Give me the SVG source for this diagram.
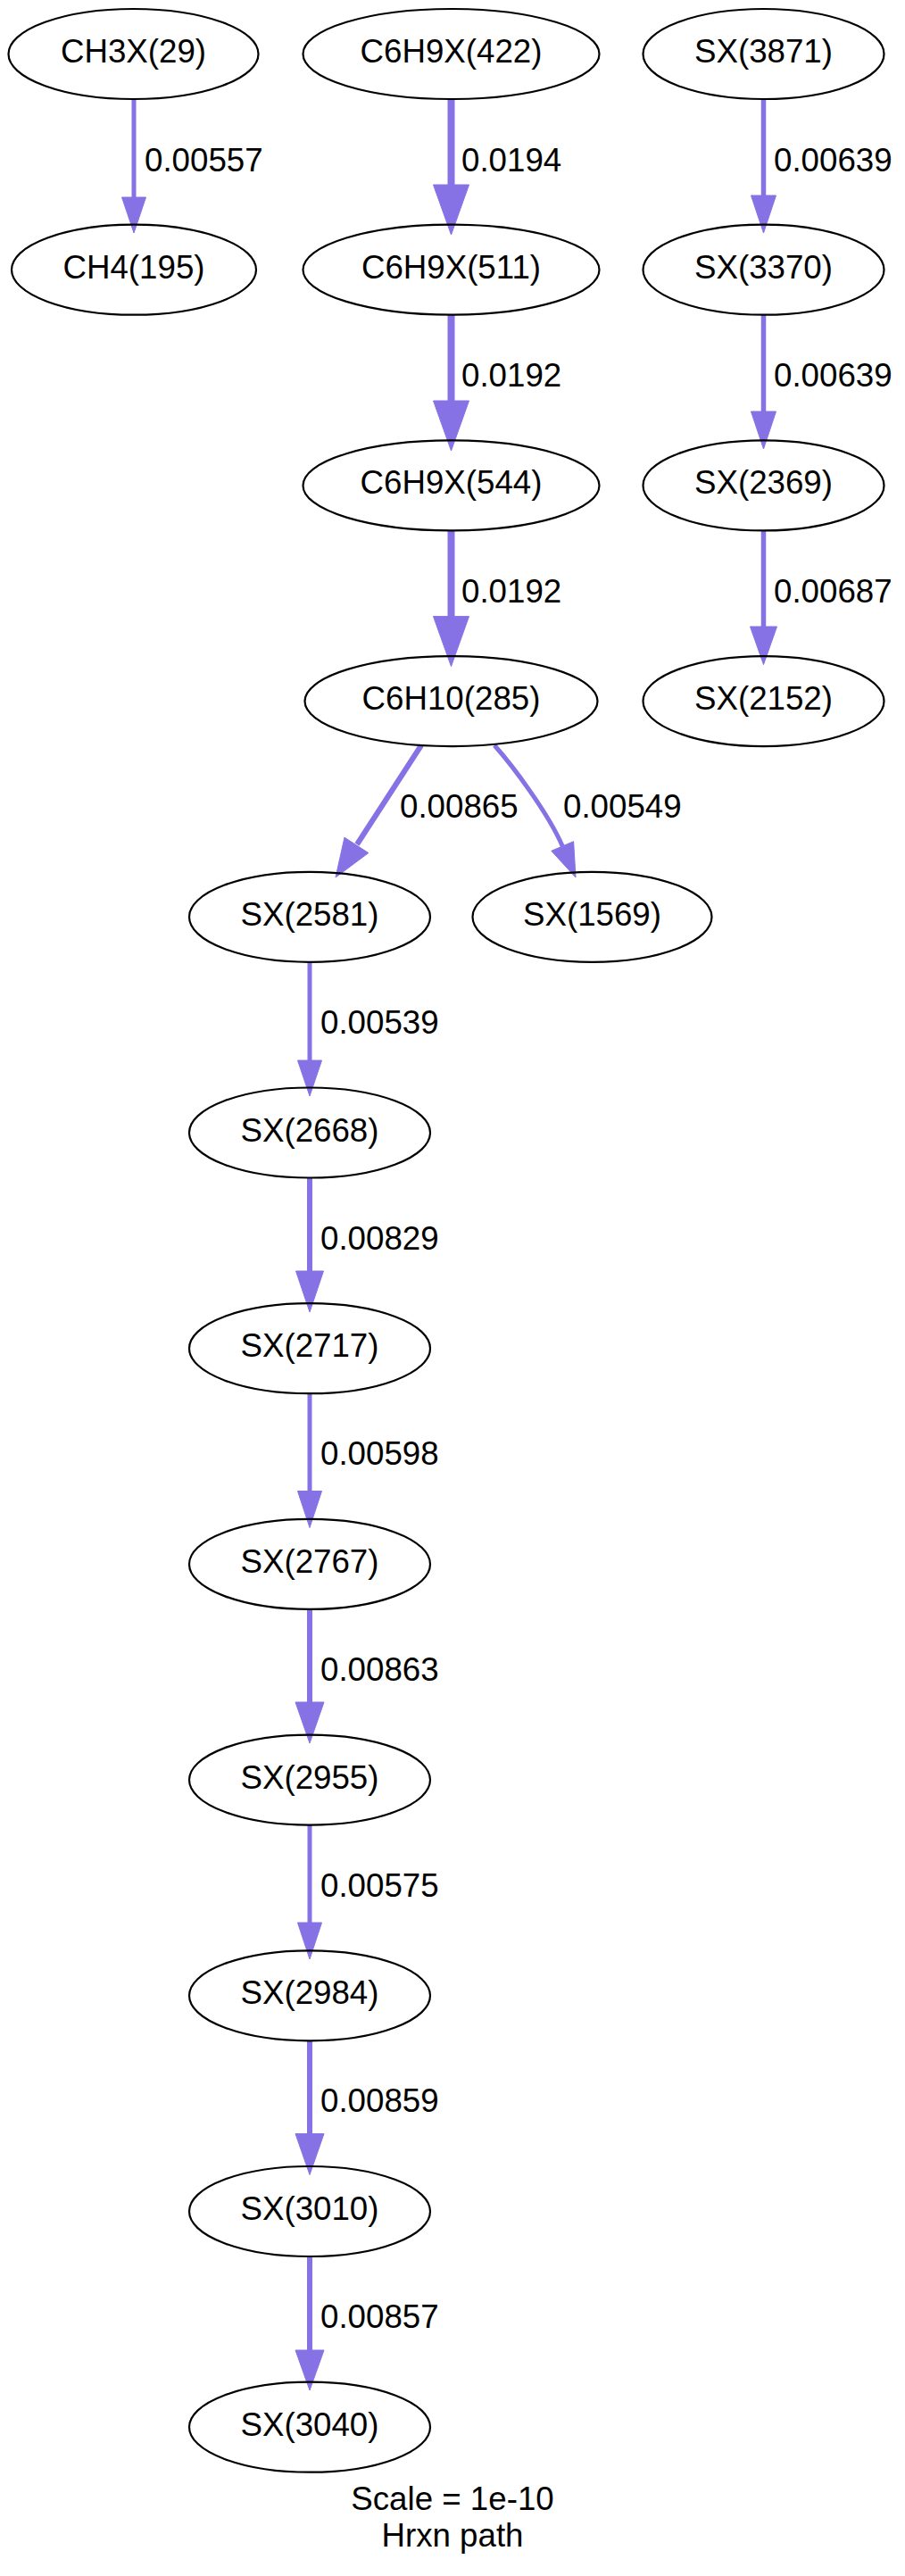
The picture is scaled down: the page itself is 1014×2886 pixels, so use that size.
<svg xmlns="http://www.w3.org/2000/svg" width="1014" height="2886" viewBox="0 0 1014 2886">
<style>
  .n ellipse { fill: none; stroke: #000; stroke-width: 2.2; }
  text { font-family: "Liberation Sans", Arial, Helvetica, sans-serif; font-size: 36.7px; fill: #000; }
  .n text { text-anchor: middle; }
  .e line, .e path { stroke: #8772e5; fill: none; }
  .e polygon { fill: #8772e5; stroke: #8772e5; stroke-width: 1; stroke-linejoin: miter; }
  .w8 { stroke-width: 8; }
  .w6 { stroke-width: 6; }
  .w55 { stroke-width: 5.5; }
  .w5 { stroke-width: 5; }
</style>
<rect x="0" y="0" width="1014" height="2886" fill="#fff"/>

<g id="connectors" class="e">
  <line class="w5" x1="150" y1="111" x2="150" y2="222"/>
  <polygon points="136.5,221 163.5,221 150,261"/>

  <line class="w8" x1="505.5" y1="111" x2="505.5" y2="208"/>
  <polygon points="485.5,207 525.5,207 505.5,263"/>

  <line class="w55" x1="855.5" y1="111" x2="855.5" y2="220"/>
  <polygon points="841.5,219 869.5,219 855.5,261"/>

  <line class="w8" x1="505.5" y1="352.7" x2="505.5" y2="450"/>
  <polygon points="485.5,449 525.5,449 505.5,505"/>

  <line class="w55" x1="855.5" y1="352.7" x2="855.5" y2="462"/>
  <polygon points="841.5,461 869.5,461 855.5,503"/>

  <line class="w8" x1="505.5" y1="594.4" x2="505.5" y2="691.6"/>
  <polygon points="485.5,690.6 525.5,690.6 505.5,746.6"/>

  <line class="w55" x1="855.5" y1="594.4" x2="855.5" y2="703"/>
  <polygon points="840.5,702 870.5,702 855.5,744.6"/>

  <line class="w6" x1="472" y1="835" x2="400" y2="946"/>
  <polygon points="386,938.2 412.8,955.6 376,983"/>

  <path class="w5" d="M554,835 C574,857.5 614.4,911 630.2,948"/>
  <polygon points="617.8,953.3 642.6,942.7 645,983"/>

  <line class="w5" x1="347" y1="1077.8" x2="347" y2="1189"/>
  <polygon points="333.5,1188 360.5,1188 347,1228"/>

  <line class="w6" x1="347" y1="1319.5" x2="347" y2="1425"/>
  <polygon points="331.5,1424 362.5,1424 347,1470"/>

  <line class="w5" x1="347" y1="1561.2" x2="347" y2="1671.5"/>
  <polygon points="333.5,1670.5 360.5,1670.5 347,1711.5"/>

  <line class="w6" x1="347" y1="1802.9" x2="347" y2="1908"/>
  <polygon points="331,1907 363,1907 347,1953"/>

  <line class="w5" x1="347" y1="2044.6" x2="347" y2="2155"/>
  <polygon points="333.5,2154 360.5,2154 347,2195"/>

  <line class="w6" x1="347" y1="2286.3" x2="347" y2="2391.5"/>
  <polygon points="331,2390.5 363,2390.5 347,2436.5"/>

  <line class="w6" x1="347" y1="2528" x2="347" y2="2634"/>
  <polygon points="331,2633 363,2633 347,2678"/>

  <text x="162" y="192">0.00557</text>
  <text x="517" y="192">0.0194</text>
  <text x="867" y="192">0.00639</text>
  <text x="517" y="433">0.0192</text>
  <text x="867" y="433">0.00639</text>
  <text x="517" y="675">0.0192</text>
  <text x="867" y="675">0.00687</text>
  <text x="448" y="916">0.00865</text>
  <text x="631" y="916">0.00549</text>
  <text x="359" y="1158">0.00539</text>
  <text x="359" y="1400">0.00829</text>
  <text x="359" y="1641">0.00598</text>
  <text x="359" y="1883">0.00863</text>
  <text x="359" y="2125">0.00575</text>
  <text x="359" y="2366">0.00859</text>
  <text x="359" y="2608">0.00857</text>
</g>

<g id="CH3X_29" class="n"><ellipse cx="149.5" cy="60.5" rx="140" ry="50.5"/><text x="149.5" y="70">CH3X(29)</text></g>
<g id="C6H9X_422" class="n"><ellipse cx="505.5" cy="60.5" rx="166" ry="50.5"/><text x="505.5" y="70">C6H9X(422)</text></g>
<g id="SX_3871" class="n"><ellipse cx="855.5" cy="60.5" rx="135" ry="50.5"/><text x="855.5" y="70">SX(3871)</text></g>

<g id="CH4_195" class="n"><ellipse cx="150" cy="302.2" rx="137" ry="50.5"/><text x="150" y="311.7">CH4(195)</text></g>
<g id="C6H9X_511" class="n"><ellipse cx="505.5" cy="302.2" rx="166" ry="50.5"/><text x="505.5" y="311.7">C6H9X(511)</text></g>
<g id="SX_3370" class="n"><ellipse cx="855.5" cy="302.2" rx="135" ry="50.5"/><text x="855.5" y="311.7">SX(3370)</text></g>

<g id="C6H9X_544" class="n"><ellipse cx="505.5" cy="543.9" rx="166" ry="50.5"/><text x="505.5" y="553.4">C6H9X(544)</text></g>
<g id="SX_2369" class="n"><ellipse cx="855.5" cy="543.9" rx="135" ry="50.5"/><text x="855.5" y="553.4">SX(2369)</text></g>

<g id="C6H10_285" class="n"><ellipse cx="505.5" cy="785.6" rx="164" ry="50.5"/><text x="505.5" y="795.1">C6H10(285)</text></g>
<g id="SX_2152" class="n"><ellipse cx="855.5" cy="785.6" rx="135" ry="50.5"/><text x="855.5" y="795.1">SX(2152)</text></g>

<g id="SX_2581" class="n"><ellipse cx="347" cy="1027.3" rx="135" ry="50.5"/><text x="347" y="1036.8">SX(2581)</text></g>
<g id="SX_1569" class="n"><ellipse cx="663.5" cy="1027.3" rx="134" ry="50.5"/><text x="663.5" y="1036.8">SX(1569)</text></g>

<g id="SX_2668" class="n"><ellipse cx="347" cy="1269" rx="135" ry="50.5"/><text x="347" y="1278.5">SX(2668)</text></g>
<g id="SX_2717" class="n"><ellipse cx="347" cy="1510.7" rx="135" ry="50.5"/><text x="347" y="1520.2">SX(2717)</text></g>
<g id="SX_2767" class="n"><ellipse cx="347" cy="1752.4" rx="135" ry="50.5"/><text x="347" y="1761.9">SX(2767)</text></g>
<g id="SX_2955" class="n"><ellipse cx="347" cy="1994.1" rx="135" ry="50.5"/><text x="347" y="2003.6">SX(2955)</text></g>
<g id="SX_2984" class="n"><ellipse cx="347" cy="2235.8" rx="135" ry="50.5"/><text x="347" y="2245.3">SX(2984)</text></g>
<g id="SX_3010" class="n"><ellipse cx="347" cy="2477.5" rx="135" ry="50.5"/><text x="347" y="2487">SX(3010)</text></g>
<g id="SX_3040" class="n"><ellipse cx="347" cy="2719.2" rx="135" ry="50.5"/><text x="347" y="2728.7">SX(3040)</text></g>

<g id="caption">
  <text x="507" y="2812" text-anchor="middle">Scale = 1e-10</text>
  <text x="507" y="2853" text-anchor="middle">Hrxn path</text>
</g>
</svg>
